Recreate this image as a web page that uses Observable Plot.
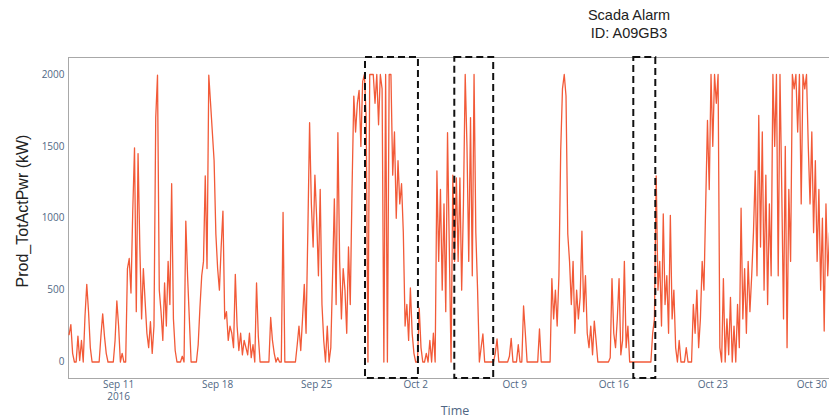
<!DOCTYPE html>
<html><head><meta charset="utf-8">
<script src="https://cdn.jsdelivr.net/npm/d3@7"></script>
<script src="https://cdn.jsdelivr.net/npm/@observablehq/plot@0.6"></script>
<style>
body{margin:0;background:#fff;}
#wrap{position:relative;width:829px;height:420px;overflow:hidden;}
#wrap svg{position:absolute;left:0;top:0;}
.t{position:absolute;white-space:nowrap;}
#title{left:529px;top:6px;width:200px;text-align:center;font-family:"Liberation Sans",Arial,sans-serif;font-size:14.5px;line-height:18px;color:#222;}
#ylab{left:23px;top:211px;transform:translate(-50%,-50%) rotate(-90deg);font-family:"Liberation Sans",Arial,sans-serif;font-size:16px;color:#222;}
#xlab{left:455px;top:410px;transform:translate(-50%,-50%);font-family:"Open Sans",sans-serif;font-size:12.5px;color:#506784;}
</style></head><body>
<div id="wrap">
  <div class="t" id="title">Scada Alarm<br>ID: A09GB3</div>
  <div class="t" id="ylab">Prod_TotActPwr (kW)</div>
  <div class="t" id="xlab">Time</div>
</div>
<script>
// Sampling: every 3 hours starting 2016-09-07 12:00 UTC
const startTime = "2016-09-07T12:00Z";
const stepHours = 3;

// Prod_TotActPwr (kW), one row per day
const week1 = [
  190, 260, 60, 0,                          // Sep 7 (from 12h)
  0, 180, 10, 150, 0, 320, 540, 350,        // Sep 8
  100, 0, 0, 0, 0, 0, 180, 335,             // Sep 9
  180, 60, 0, 0, 0, 0, 150, 425             // Sep 10
];
const week2 = [
  250, 0, 60, 0, 0, 650, 720, 480,          // Sep 11
  1050, 1490, 350, 1450, 800, 300, 650, 420,// Sep 12
  200, 100, 280, 60, 250, 1700, 1995, 500,  // Sep 13
  350, 150, 550, 250, 700, 400, 1240, 300,  // Sep 14
  80, 0, 0, 0, 40, 0, 980, 600,             // Sep 15
  300, 0, 0, 0, 0, 120, 380, 600,           // Sep 16
  700, 1295, 650, 1995, 1800, 1600, 1400, 890 // Sep 17
];
const week3 = [
  650, 500, 800, 1050, 300, 350, 150, 250,  // Sep 18
  200, 100, 610, 250, 80, 200, 50, 150,     // Sep 19
  100, 50, 200, 30, 120, 0, 550, 180,       // Sep 20
  0, 0, 0, 0, 0, 0, 310, 150,               // Sep 21
  60, 0, 30, 0, 0, 1040, 0, 0,              // Sep 22
  0, 0, 0, 0, 0, 120, 250, 80,              // Sep 23
  300, 540, 200, 900, 1665, 1100, 800, 1300 // Sep 24
];
const week4 = [
  1000, 600, 1200, 400, 150, 0, 250, 0,     // Sep 25
  100, 600, 1135, 400, 1595, 700, 300, 650, // Sep 26
  500, 200, 800, 400, 1200, 1850, 1600, 1800, // Sep 27
  1890, 1500, 1950, 2000, 1700, 0, 2000, 2000, // Sep 28
  2000, 1800, 2000, 1650, 2000, 1900, 0, 2000, // Sep 29
  0, 2000, 2000, 1300, 1600, 1000, 1400, 1100, // Sep 30
  1240, 900, 250, 400, 150, 515, 200, 60    // Oct 1
];
const week5 = [
  0, 0, 375, 100, 0, 0, 60, 0,              // Oct 2
  150, 0, 200, 0, 1330, 700, 1200, 500,     // Oct 3
  1100, 350, 1595, 800, 0, 1300, 700, 1280, // Oct 4
  700, 1280, 500, 1100, 2000, 1500, 700, 1700, // Oct 5
  600, 2000, 900, 500, 0, 100, 195, 0,      // Oct 6
  0, 0, 0, 0, 0, 60, 160, 0,                // Oct 7
  0, 0, 0, 0, 0, 40, 165, 0                 // Oct 8
];
const week6 = [
  0, 0, 120, 0, 0, 390, 200, 0,             // Oct 9
  0, 0, 0, 0, 0, 0, 230, 0,                 // Oct 10
  0, 0, 0, 0, 0, 580, 300, 500,             // Oct 11
  250, 600, 1470, 1900, 2000, 1850, 890, 700, // Oct 12
  400, 700, 200, 500, 300, 450, 910, 350,   // Oct 13
  600, 200, 100, 250, 50, 285, 150, 0,      // Oct 14
  0, 0, 0, 0, 0, 0, 30, 580                 // Oct 15
];
const week7 = [
  200, 100, 300, 580, 50, 150, 700, 100,    // Oct 16
  250, 0, 0, 0, 0, 0, 0, 0,                 // Oct 17
  0, 0, 0, 0, 0, 0, 200, 300,               // Oct 18
  1295, 500, 700, 250, 1030, 400, 600, 200, // Oct 19
  1020, 300, 500, 100, 0, 150, 0, 0,        // Oct 20
  0, 100, 0, 0, 0, 400, 200, 500,           // Oct 21
  100, 300, 700, 500, 1100, 1680, 1200, 2000 // Oct 22
];
const week8 = [
  1500, 2000, 1800, 2000, 100, 0, 580, 0,   // Oct 23
  300, 50, 450, 0, 250, 0, 400, 100,        // Oct 24
  1070, 300, 650, 200, 700, 350, 600, 900,  // Oct 25
  1330, 600, 1715, 800, 1600, 500, 1300, 400, // Oct 26
  1100, 600, 2000, 1500, 2000, 600, 2000, 1200, // Oct 27
  300, 1500, 100, 1200, 700, 2000, 1900, 2000, // Oct 28
  1600, 2000, 1100, 2000, 1900, 2000, 1500, 1100 // Oct 29
];
const week9 = [
  1600, 900, 1400, 700, 1200, 500, 1000, 215, // Oct 30
  1100, 600, 900                            // Oct 31
];

// Scada alarm windows (dashed boxes)
const alarmStarts = ["2016-09-28T10:50Z", "2016-10-04T18:20Z", "2016-10-17T10:00Z"];
const alarmEnds   = ["2016-10-02T04:40Z", "2016-10-07T12:20Z", "2016-10-18T23:20Z"];

// Axis ticks
const xTickDates = ["2016-09-11", "2016-09-18", "2016-09-25", "2016-10-02", "2016-10-09", "2016-10-16", "2016-10-23", "2016-10-30"];
const xTickLabels = ["Sep 11", "Sep 18", "Sep 25", "Oct 2", "Oct 9", "Oct 16", "Oct 23", "Oct 30"];
const xTickYears = ["2016", "", "", "", "", "", "", ""];
const yTicks = [0, 500, 1000, 1500, 2000];

const xDomain = [new Date("2016-09-07T11:00Z"), new Date("2016-10-31T06:00Z")];
const yDomain = [-114.8, 2118.3];

const values = [...week1, ...week2, ...week3, ...week4, ...week5, ...week6, ...week7, ...week8, ...week9];
const t0 = new Date(startTime).getTime();
const data = values.map((v, i) => ({t: new Date(t0 + i * stepHours * 3600e3), v}));
const boxes = alarmStarts.map((s, i) => ({start: new Date(s), end: new Date(alarmEnds[i])}));
const tickDates = xTickDates.map(d => new Date(d + "T00:00Z"));
const labelMap = new Map(tickDates.map((d, i) => [+d, xTickLabels[i]]));
const yearLabels = tickDates.map((d, i) => ({t: d, text: xTickYears[i]})).filter(d => d.text);

const chart = Plot.plot({
  width: 829, height: 420,
  marginLeft: 68, marginRight: 0, marginTop: 57, marginBottom: 42,
  style: {fontFamily: '"Open Sans", sans-serif', fontSize: "10px", color: "#506784", background: "transparent"},
  x: {type: "utc", domain: xDomain, label: null},
  y: {domain: yDomain, label: null},
  marks: [
    Plot.ruleY([yDomain[1]], {stroke: "#a8a8a8", strokeWidth: 1}),
    Plot.ruleY([yDomain[0]], {stroke: "#a8a8a8", strokeWidth: 1}),
    Plot.ruleX([xDomain[0]], {stroke: "#a8a8a8", strokeWidth: 1}),
    Plot.axisY({ticks: yTicks, tickSize: 0, tickPadding: 4, tickFormat: d => String(d), label: null}),
    Plot.axisX({ticks: tickDates, tickSize: 0, tickPadding: 2, tickFormat: d => labelMap.get(+d), label: null}),
    Plot.text(yearLabels, {x: "t", text: "text", frameAnchor: "bottom", lineAnchor: "top", dy: 14, fill: "#506784", fontSize: 10}),
    Plot.lineY(data, {x: "t", y: "v", stroke: "#f25a38", strokeWidth: 1.3}),
    Plot.rect(boxes, {x1: "start", x2: "end", fill: "none", stroke: "#111", strokeWidth: 2, strokeDasharray: "7,4"})
  ]
});
document.getElementById("wrap").prepend(chart);
</script>
</body></html>
